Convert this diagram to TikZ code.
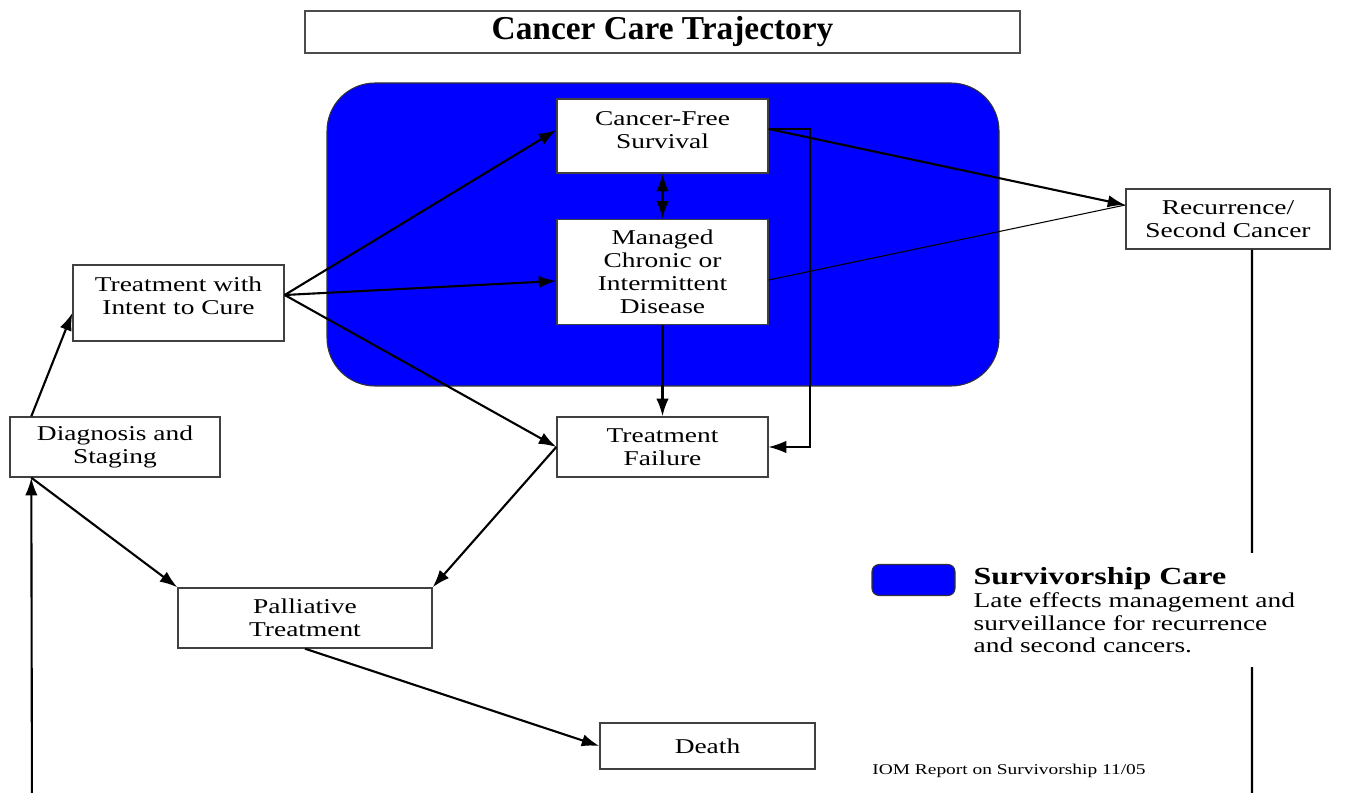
\documentclass[tikz,border=0pt]{standalone}
\usepackage{fontspec}
\setmainfont{Liberation Serif}
\newfontfamily\stagefont[FakeStretch=1.3]{Liberation Serif}
\usetikzlibrary{positioning,arrows.meta}

\begin{document}
\begin{tikzpicture}[x=0.02cm, y=-0.02cm,
		stage/.style = {draw=black!75, line width=0.8pt, fill=white, align=center, inner sep=0pt,
			font={\stagefont\fontsize{12}{13.2}\selectfont}},
		flow/.style = {line width=1.2pt, -{Latex[length=10pt,width=7pt]}},
		thinflow/.style = {line width=0.6pt}
	]
	\clip (0,0) rectangle (1345,793);
	\fill[white] (0,0) rectangle (1345,793);

	% title
	\node[draw=black!70, line width=1pt, minimum width=14.3cm, minimum height=0.8cm,
		font={\fontsize{19}{22}\selectfont\bfseries}] (title) at (662.5,32) {Cancer Care Trajectory};

	% survivorship region
	\draw[fill=blue, draw=black!80, line width=0.6pt, rounded corners=0.96cm] (327,83) rectangle (999,386);

	% stages
	\node[stage, minimum width=4.22cm, minimum height=1.48cm, text depth=7pt] (cfs) at (662.5,136) {Cancer-Free\\Survival};
	\node[stage, minimum width=4.22cm, minimum height=2.1cm] (mcid) at (662.5,272) {Managed\\Chronic or\\Intermittent\\Disease};
	\node[stage, minimum width=4.22cm, minimum height=1.2cm] (tf) at (662.5,447) {Treatment\\Failure};
	\node[stage, minimum width=4.08cm, minimum height=1.2cm] (rec) at (1228,219) {Recurrence/\\Second Cancer};
	\node[stage, minimum width=4.22cm, minimum height=1.52cm, text depth=8pt] (twic) at (178.5,303) {Treatment with\\Intent to Cure};
	\node[stage, minimum width=4.2cm, minimum height=1.2cm] (diag) at (115,447) {Diagnosis and\\Staging};
	\node[stage, minimum width=5.08cm, minimum height=1.2cm] (pall) at (305,618) {Palliative\\Treatment};
	\node[stage, minimum width=4.3cm, minimum height=0.92cm] (death) at (707.5,746) {Death};

	% connector ends
	\coordinate (twicout) at ([yshift=0.16cm]twic.east);
	\coordinate (cfsout) at ([yshift=0.14cm]cfs.east);
	\coordinate (recin) at ([yshift=0.28cm]rec.west);
	\coordinate (diagin) at ([xshift=0.44cm]diag.south west);
	\coordinate (loopx) at (810,0);
	\coordinate (rloop) at (1252,820);
	\coordinate (lloop) at (32,820);

	% connectors
	\draw[flow] ([xshift=0.44cm]diag.north west) -- ([yshift=-0.2cm]twic.west);
	\draw[flow] (twicout) -- ([yshift=0.12cm]cfs.west);
	\draw[flow] (twicout) -- ([yshift=-0.18cm]mcid.west);
	\draw[flow] (twicout) -- (tf.west);
	\draw[flow, {Latex[length=10pt,width=7pt]}-{Latex[length=10pt,width=7pt]}] (cfs.south) -- (mcid.north);
	\draw[flow] (mcid.south) -- (tf.north);
	\draw[thinflow, -{Latex[length=10pt,width=7pt]}] (cfsout) -- (cfsout -| loopx) |- (tf.east);
	\draw[flow] (cfsout) -- (recin);
	\draw[thinflow] ([yshift=-0.16cm]mcid.east) -- (recin);
	\draw[flow] (tf.west) -- (pall.north east);
	\draw[flow] (diagin) -- (pall.north west);
	\draw[flow] (pall.south) -- (death.west);
	\draw[flow] (rec.south -| rloop) -- (rloop) -- (lloop) -- (diagin);

	% legend
	\node[draw=black!80, line width=0.6pt, fill=blue, rounded corners=4pt,
		minimum width=1.66cm, minimum height=0.62cm] (key) at (913.5,580) {};
	\node[anchor=north west, fill=white, inner xsep=3pt, inner ysep=8pt, align=left,
		font={\stagefont\fontsize{12}{13}\selectfont}] (keytext) at (968,553)
		{{\fontsize{14}{13}\selectfont\bfseries Survivorship Care}\\Late effects management and\\surveillance for recurrence\\and second cancers.};
	\node[anchor=west, inner sep=0pt, font={\stagefont\fontsize{8.5}{10}\selectfont}] (source) at (872,771) {IOM Report on Survivorship 11/05};
\end{tikzpicture}
\end{document}
